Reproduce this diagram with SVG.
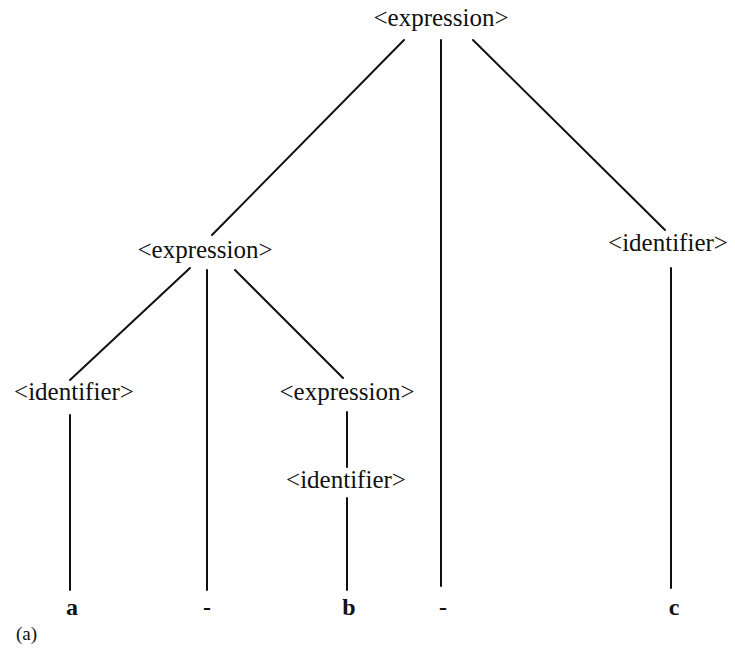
<svg xmlns="http://www.w3.org/2000/svg" width="735" height="659" viewBox="0 0 735 659">
  <style>
    .nt { font-family: "Liberation Serif", "Times New Roman", serif; font-size: 25px; fill: #111; text-anchor: middle; }
    .leaf { font-family: "Liberation Serif", "Times New Roman", serif; font-size: 24px; font-weight: bold; fill: #111; text-anchor: middle; }
    .cap { font-family: "Liberation Serif", "Times New Roman", serif; font-size: 19px; fill: #111; }
    .edge { stroke: #111; stroke-width: 2; fill: none; stroke-linecap: round; }
  </style>
  <rect width="735" height="659" fill="#fff"/>

  <!-- tree edges -->
  <g id="connectors">
    <line class="edge" x1="404" y1="40" x2="212" y2="235"/>
    <line class="edge" x1="441" y1="40" x2="441" y2="586"/>
    <line class="edge" x1="473" y1="40" x2="665" y2="230"/>
    <line class="edge" x1="190" y1="268" x2="70" y2="380"/>
    <line class="edge" x1="207" y1="270" x2="207" y2="590"/>
    <line class="edge" x1="235" y1="270" x2="343" y2="378"/>
    <line class="edge" x1="70" y1="415" x2="70" y2="590"/>
    <line class="edge" x1="347" y1="412" x2="347" y2="467"/>
    <line class="edge" x1="347" y1="498" x2="347" y2="590"/>
    <line class="edge" x1="671" y1="268" x2="671" y2="588"/>
  </g>

  <!-- nonterminal nodes -->
  <g id="expr-root"><text class="nt" x="441" y="26">&lt;expression&gt;</text></g>
  <g id="expr-left"><text class="nt" x="205" y="258">&lt;expression&gt;</text></g>
  <g id="ident-c"><text class="nt" x="668" y="251">&lt;identifier&gt;</text></g>
  <g id="ident-a"><text class="nt" x="74" y="400">&lt;identifier&gt;</text></g>
  <g id="expr-b"><text class="nt" x="347" y="400">&lt;expression&gt;</text></g>
  <g id="ident-b"><text class="nt" x="346" y="488">&lt;identifier&gt;</text></g>

  <!-- terminal leaves -->
  <g id="leaf-a"><text class="leaf" x="72" y="615">a</text></g>
  <g id="leaf-minus1"><text class="leaf" x="207" y="615">-</text></g>
  <g id="leaf-b"><text class="leaf" x="349" y="615">b</text></g>
  <g id="leaf-minus2"><text class="leaf" x="443" y="615">-</text></g>
  <g id="leaf-c"><text class="leaf" x="674" y="615">c</text></g>

  <text class="cap" x="16" y="640">(a)</text>
</svg>
